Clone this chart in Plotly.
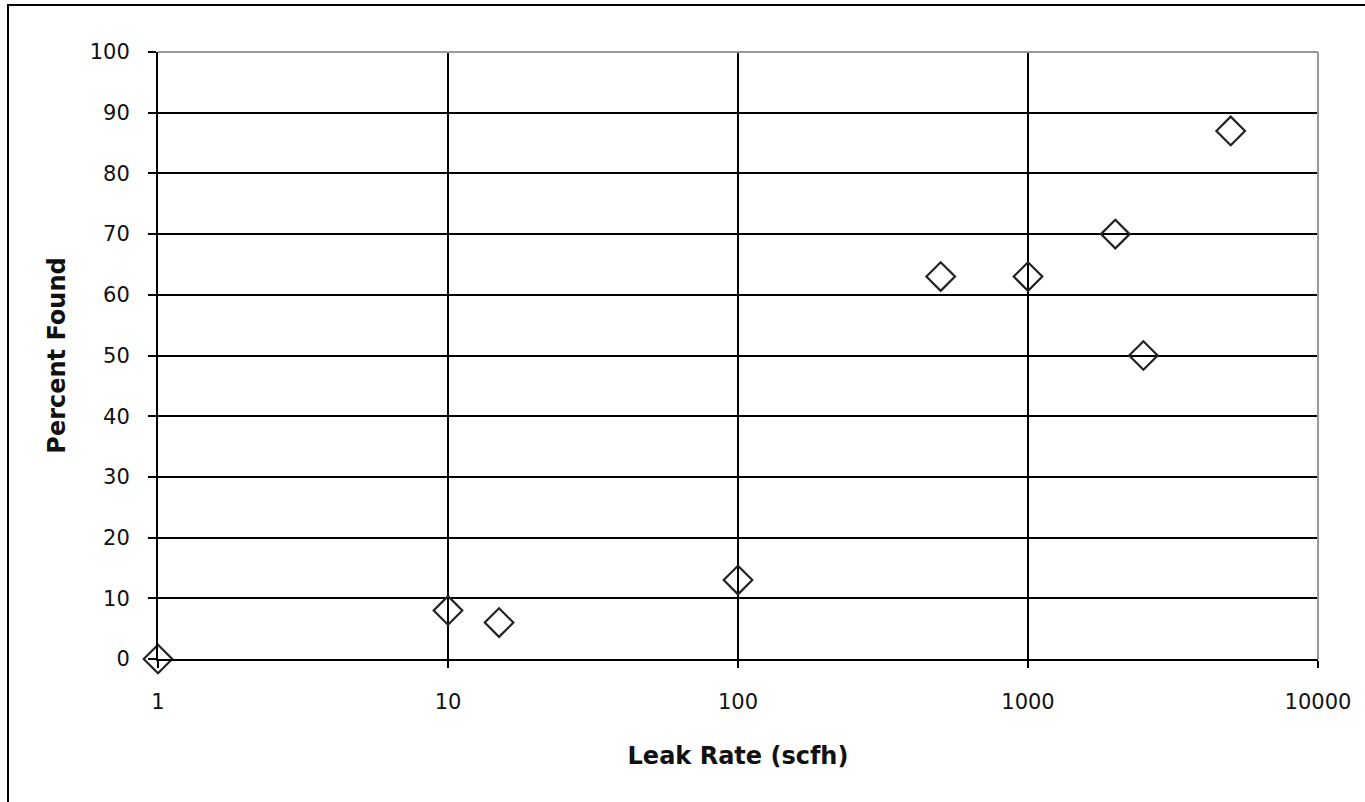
import plotly.graph_objects as go

leak_rate = [1, 10, 15, 100, 500, 1000, 2000, 2500, 5000]
percent_found = [0, 8, 6, 13, 63, 63, 70, 50, 87]
x_ticks = [1, 10, 100, 1000, 10000]
x_tick_labels = ["1", "10", "100", "1000", "10000"]
y_ticks = [0, 10, 20, 30, 40, 50, 60, 70, 80, 90, 100]

L, R, T, B = 158, 47, 52, 143
W, H = 1365, 802
pw, ph = W - L - R, H - T - B

def px(x):
    return (x - L) / pw

def py(y):
    return (H - B - y) / ph

FAM = "DejaVu Sans, Liberation Sans, Arial, sans-serif"

fig = go.Figure()
fig.add_trace(go.Scatter(
    x=leak_rate, y=percent_found, mode="markers",
    marker=dict(symbol="diamond-open", size=22, color="#222",
                line=dict(width=2.2, color="#222")),
    showlegend=False, cliponaxis=False,
))

fig.update_layout(
    width=W, height=H,
    margin=dict(l=L, r=R, t=T, b=B, pad=0),
    paper_bgcolor="white", plot_bgcolor="white",
    font=dict(family=FAM, size=21, color="#111"),
    xaxis=dict(
        type="log", range=[0, 4],
        tickvals=x_ticks, ticktext=x_tick_labels,
        tickfont=dict(family=FAM, size=21, color="#111"),
        showgrid=True, gridcolor="#000", gridwidth=2,
        showline=True, linecolor="#000", linewidth=2,
        ticks="outside", ticklen=7, tickwidth=2, tickcolor="#000",
        ticklabelstandoff=16,
        zeroline=False,
        title=dict(text="<b>Leak Rate (scfh)</b>", font=dict(family=FAM, size=24, color="#111"), standoff=34),
    ),
    yaxis=dict(
        range=[0, 100], tickvals=y_ticks,
        tickfont=dict(family=FAM, size=21, color="#111"),
        showgrid=True, gridcolor="#000", gridwidth=2,
        showline=True, linecolor="#000", linewidth=2,
        ticks="outside", ticklen=8, tickwidth=2, tickcolor="#000",
        ticklabelstandoff=14,
        zeroline=False,
        title=dict(text="<b>Percent Found</b>", font=dict(family=FAM, size=24, color="#111"), standoff=17),
    ),
    shapes=[
        dict(type="line", xref="paper", yref="paper", x0=0, x1=1, y0=1, y1=1,
             line=dict(color="#999", width=2), layer="above"),
        dict(type="line", xref="paper", yref="paper", x0=1, x1=1, y0=0, y1=1,
             line=dict(color="#999", width=2), layer="above"),
        dict(type="rect", xref="paper", yref="paper",
             x0=px(8), x1=px(1375), y0=py(5), y1=py(815),
             line=dict(color="#000", width=2), layer="below"),
    ],
)

fig.write_html("out.html")
